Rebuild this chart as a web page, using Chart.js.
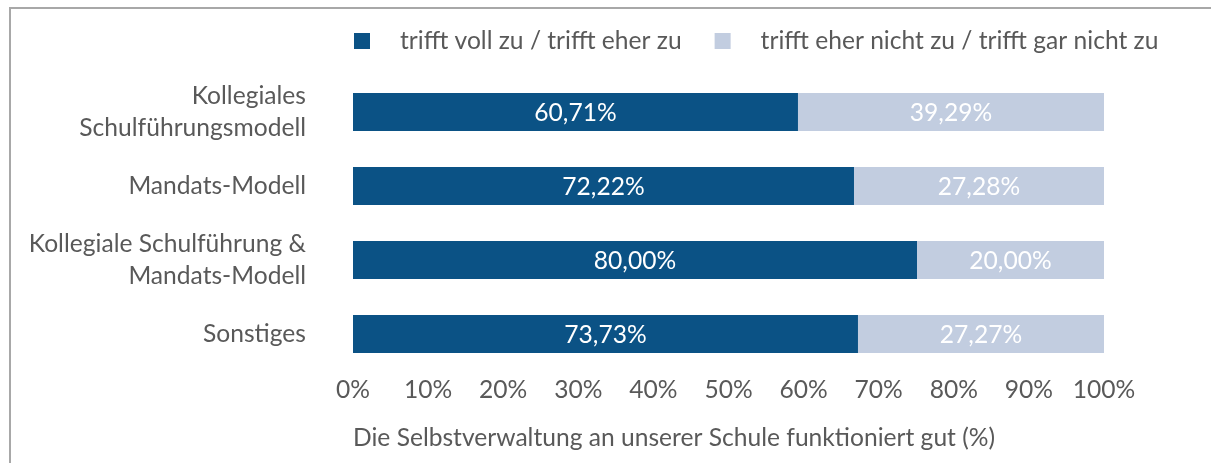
<!DOCTYPE html>
<html>
<head>
<meta charset="utf-8">
<script src="https://cdn.jsdelivr.net/npm/chart.js@4.4.1/dist/chart.umd.min.js"></script>
<style>
  html, body { margin: 0; padding: 0; background: #ffffff; }
  #wrap { width: 1211px; height: 463px; position: relative; }
</style>
</head>
<body>
<div id="wrap"><canvas id="c" width="1211" height="463"></canvas></div>
<script>
// ---- data ----
const categories = [
  ['Kollegiales', 'Schulführungsmodell'],
  'Mandats-Modell',
  ['Kollegiale Schulführung &', 'Mandats-Modell'],
  'Sonstiges'
];
const seriesNames = [
  'trifft voll zu / trifft eher zu',
  'trifft eher nicht zu / trifft gar nicht zu'
];
// bar lengths as drawn in the reference (share of the 0–100 % axis)
const agreeValues = [59.25, 66.71, 75.10, 67.24];
const disagreeValues = [40.75, 33.29, 24.90, 32.76];
// data labels as printed in the reference
const agreeLabels = ['60,71%', '72,22%', '80,00%', '73,73%'];
const disagreeLabels = ['39,29%', '27,28%', '20,00%', '27,27%'];
const xTickLabels = ['0%', '10%', '20%', '30%', '40%', '50%', '60%', '70%', '80%', '90%', '100%'];
const axisTitle = 'Die Selbstverwaltung an unserer Schule funktioniert gut (%)';

const FONT = 'Lato, "Open Sans", sans-serif';
const FS = 24.6;
const TEXT = '#595959';
const DARK = '#0b5285';
const LIGHT = '#c2cde0';

const framePlugin = {
  id: 'frame',
  beforeDraw(chart) {
    const ctx = chart.ctx;
    ctx.save();
    ctx.fillStyle = '#ffffff';
    ctx.fillRect(0, 0, chart.width, chart.height);
    ctx.fillStyle = '#a8a8a8';
    ctx.fillRect(9, 7, chart.width - 9, 2);
    ctx.fillRect(9, 7, 2, chart.height - 7);
    ctx.restore();
  }
};

const legendPlugin = {
  id: 'customLegend',
  afterDraw(chart) {
    const ctx = chart.ctx;
    const a = chart.chartArea;
    ctx.save();
    ctx.font = FS + 'px ' + FONT;
    ctx.textBaseline = 'middle';
    ctx.textAlign = 'left';
    let x = a.left + 1;
    const yc = 41;
    chart.data.datasets.forEach((ds, i) => {
      ctx.fillStyle = ds.backgroundColor;
      ctx.fillRect(x, yc - 8, 16, 16);
      x += 16 + 30;
      ctx.fillStyle = TEXT;
      ctx.fillText(ds.label, x, yc);
      x += ctx.measureText(ds.label).width + 33;
    });
    ctx.restore();
  }
};

const valueLabelPlugin = {
  id: 'valueLabels',
  afterDatasetsDraw(chart) {
    const ctx = chart.ctx;
    const labelSets = [agreeLabels, disagreeLabels];
    ctx.save();
    ctx.font = FS + 'px ' + FONT;
    ctx.fillStyle = '#ffffff';
    ctx.textAlign = 'center';
    ctx.textBaseline = 'middle';
    chart.data.datasets.forEach((ds, di) => {
      const meta = chart.getDatasetMeta(di);
      meta.data.forEach((bar, i) => {
        const cx = (bar.x + bar.base) / 2;
        ctx.fillText(labelSets[di][i], cx, bar.y + 1);
      });
    });
    ctx.restore();
  }
};

new Chart(document.getElementById('c'), {
  type: 'bar',
  data: {
    labels: categories,
    datasets: [
      { label: seriesNames[0], data: agreeValues, backgroundColor: DARK, borderWidth: 0 },
      { label: seriesNames[1], data: disagreeValues, backgroundColor: LIGHT, borderWidth: 0 }
    ]
  },
  options: {
    indexAxis: 'y',
    responsive: false,
    devicePixelRatio: 1,
    animation: false,
    layout: { padding: { top: 75, right: 107, bottom: 0, left: 0 } },
    datasets: { bar: { categoryPercentage: 1, barPercentage: 0.515 } },
    plugins: { legend: { display: false }, tooltip: { enabled: false } },
    scales: {
      x: {
        stacked: true,
        min: 0,
        max: 100,
        grid: { display: false, drawTicks: false },
        border: { display: false },
        ticks: {
          stepSize: 10,
          padding: 4,
          color: TEXT,
          maxRotation: 0,
          autoSkip: false,
          font: { family: FONT, size: FS },
          callback: (v, i) => xTickLabels[i]
        },
        title: {
          display: true,
          text: axisTitle,
          align: 'start',
          color: TEXT,
          font: { family: FONT, size: FS },
          padding: { top: 0, bottom: 10 }
        },
        afterFit: s => { s.height = 92; }
      },
      y: {
        stacked: true,
        grid: { display: false, drawTicks: false },
        border: { display: false },
        ticks: {
          padding: 47,
          color: TEXT,
          autoSkip: false,
          font: { family: FONT, size: FS, lineHeight: 1.29 }
        },
        afterFit: s => { s.width = 353; }
      }
    }
  },
  plugins: [framePlugin, legendPlugin, valueLabelPlugin]
});
</script>
</body>
</html>
